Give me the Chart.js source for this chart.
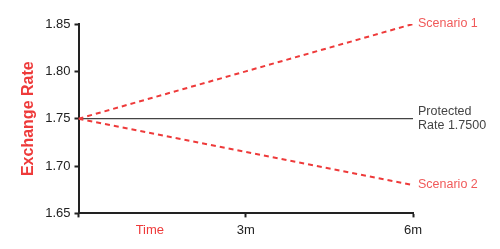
<!DOCTYPE html>
<html>

<head>
    <meta charset="UTF-8">
    <title>Exchange Rate Scenarios</title>
    <script src="https://cdn.jsdelivr.net/npm/chart.js"></script>
    <style>
        html, body { margin: 0; padding: 0; background: #fff; }
        #wrap { width: 500px; height: 249px; }
    </style>
</head>

<body>
    <div id="wrap"><canvas id="rateChart"></canvas></div>

    <script>
        // months along the x axis
        const months = [0, 3, 6];
        const scenario1 = [1.75, 1.80, 1.85];
        const scenario2 = [1.75, 1.715, 1.68];
        const protectedRate = [1.75, 1.75, 1.75];

        const xTickValues = [0, 1.28, 3, 6];
        const xTickLabels = ["", "Time", "3m", "6m"];
        const yTickValues = [1.65, 1.70, 1.75, 1.80, 1.85];

        const endLabels = [
            ["Scenario 1"],
            ["Scenario 2"],
            ["Protected", "Rate 1.7500"]
        ];

        const RED = "#ee3a3a";
        const FONT = "'Liberation Sans', Arial, sans-serif";

        const toPoints = (vals) => vals.map((v, i) => ({ x: months[i], y: v }));

        // writes the series names just past the end of each line
        const endLabelPlugin = {
            id: "endLabels",
            afterDatasetsDraw(chart) {
                const ctx = chart.ctx;
                ctx.save();
                ctx.font = "12.5px " + FONT;
                ctx.textBaseline = "middle";
                ctx.textAlign = "left";
                chart.data.datasets.forEach((ds, i) => {
                    const pts = chart.getDatasetMeta(i).data;
                    const last = pts[pts.length - 1];
                    const lines = endLabels[i];
                    ctx.fillStyle = ds.labelColor;
                    const lh = 14;
                    const y0 = last.y - (lines.length - 1) * lh / 2;
                    lines.forEach((t, j) => {
                        ctx.fillText(t, last.x + 5, y0 + j * lh);
                    });
                });
                ctx.restore();
            }
        };

        new Chart(document.getElementById("rateChart"), {
            type: "line",
            data: {
                datasets: [
                    {
                        label: "Scenario 1",
                        data: toPoints(scenario1),
                        borderColor: RED,
                        borderWidth: 2,
                        borderDash: [5, 4],
                        pointRadius: 0,
                        labelColor: "#f05a5a"
                    },
                    {
                        label: "Scenario 2",
                        data: toPoints(scenario2),
                        borderColor: RED,
                        borderWidth: 2,
                        borderDash: [5, 4],
                        pointRadius: 0,
                        labelColor: "#f05a5a"
                    },
                    {
                        label: "Protected Rate",
                        data: toPoints(protectedRate),
                        borderColor: "#444",
                        borderWidth: 1.2,
                        pointRadius: 0,
                        labelColor: "#444"
                    }
                ]
            },
            options: {
                responsive: true,
                maintainAspectRatio: false,
                animation: false,
                layout: { padding: { left: 12, right: 87, top: 24, bottom: 6 } },
                plugins: {
                    legend: { display: false },
                    tooltip: { enabled: false }
                },
                scales: {
                    x: {
                        type: "linear",
                        min: 0,
                        max: 6,
                        afterBuildTicks: (axis) => {
                            axis.ticks = xTickValues.map(v => ({ value: v }));
                        },
                        ticks: {
                            autoSkip: false,
                            maxRotation: 0,
                            padding: 5,
                            font: { family: FONT, size: 13 },
                            color: (c) => xTickLabels[c.index] === "Time" ? RED : "#222",
                            callback: (v, i) => xTickLabels[i]
                        },
                        grid: {
                            drawOnChartArea: false,
                            tickLength: 4,
                            tickWidth: 2,
                            tickColor: (c) => xTickLabels[c.index] === "Time" ? "rgba(0,0,0,0)" : "#222"
                        },
                        border: { color: "#222", width: 2 }
                    },
                    y: {
                        min: 1.65,
                        max: 1.85,
                        afterBuildTicks: (axis) => {
                            axis.ticks = yTickValues.map(v => ({ value: v }));
                        },
                        ticks: {
                            padding: 4,
                            font: { family: FONT, size: 13 },
                            color: "#222",
                            callback: (v) => Number(v).toFixed(2)
                        },
                        grid: {
                            drawOnChartArea: false,
                            tickLength: 4,
                            tickWidth: 2,
                            tickColor: "#222"
                        },
                        border: { color: "#222", width: 2 },
                        title: {
                            display: true,
                            text: "Exchange Rate",
                            color: RED,
                            font: { family: FONT, size: 16, weight: "bold" },
                            padding: { top: 7, bottom: 3 }
                        }
                    }
                }
            },
            plugins: [endLabelPlugin]
        });
    </script>
</body>

</html>
